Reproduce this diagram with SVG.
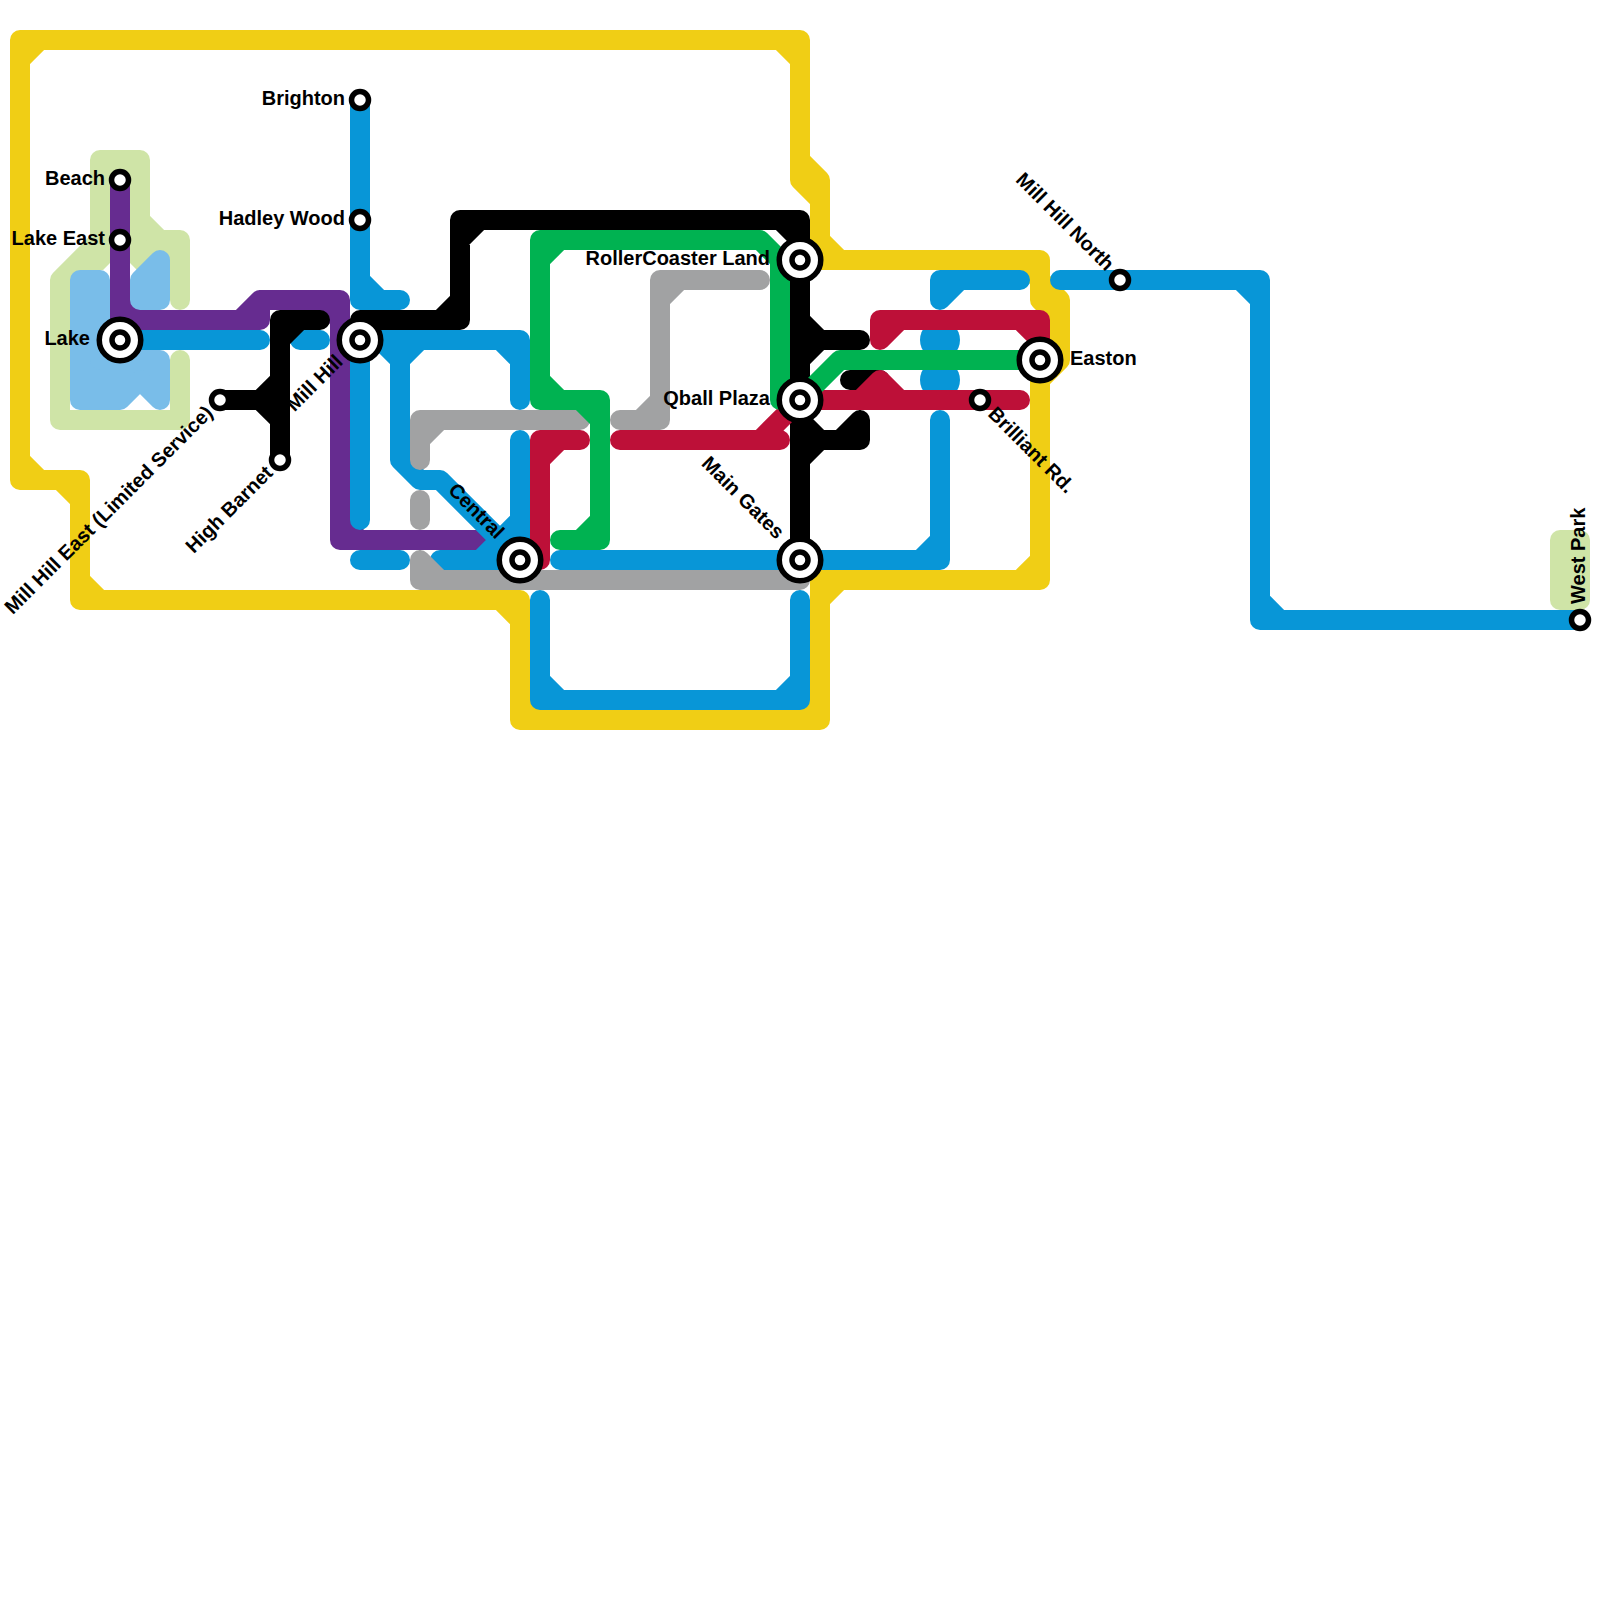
<svg xmlns="http://www.w3.org/2000/svg" width="1600" height="1600" viewBox="0 0 1600 1600">
<style>
.l{fill:none;stroke-width:20;stroke-linecap:round;stroke-linejoin:round}
.y{stroke:#f0ce15}.p{stroke:#662c90}.b{stroke:#0896d7}.a{stroke:#a1a2a3}.k{stroke:#000}.r{stroke:#bd1038}.g{stroke:#00b251}
.lg{fill:#cfe4a7}.lb{fill:#79bde9}
.s{stroke-width:20;stroke-linejoin:round;stroke-linecap:round}
.o{fill:#fff;stroke:#000;stroke-width:5.5}
.t{font-family:"Liberation Sans",Arial,sans-serif;font-weight:bold;font-size:20px;fill:#000}
.e{text-anchor:end}
</style>
<g id="areas">
<path class="lg" d="M100 160L140 160L140 220L160 240L170 240L170 260L160 260L137 270L130 263L110 263L103 270L70 275L60 280L100 240Z"/>
<path class="l" stroke="#cfe4a7" d="M180 300L180 240L160 240L140 220L140 160L100 160L100 240L60 280L60 420L180 420L180 360"/>
<rect class="lg" x="1550" y="530" width="40" height="80" rx="10"/>
</g>
<g id="connectors">
<path class="l y" d="M820 260L1040 260L1040 300L1060 300L1060 360L1040 380L1040 580L820 580L820 720L520 720L520 600L80 600L80 480L20 480L20 40L800 40L800 180L820 180L820 260M20 60L40 40M780 40L800 60M800 160L820 180M800 180L820 200M820 240L840 260M1020 260L1040 280M1040 280L1060 300M1040 300L1060 320M1040 560L1020 580M840 580L820 600M820 700L800 720M520 700L540 720M500 600L520 620M80 580L100 600M60 480L80 500M20 460L40 480"/>
<path class="l p" d="M120 180L120 320L260 320L260 300L340 300L340 540L480 540M120 300L140 320M240 320L260 300M320 300L340 320M340 520L360 540"/>
<g class="s">
<path class="lb" stroke="#79bde9" d="M80 280L100 280L100 360L160 360L160 400L140 380L120 400L80 400Z"/>
<path class="lb" stroke="#79bde9" d="M160 260L160 300L140 300L140 280Z"/>
</g>
<circle cx="940" cy="340" r="20" fill="#0896d7"/>
<circle cx="940" cy="380" r="20" fill="#0896d7"/>
<path class="l b" d="M360 100L360 300L400 300M360 280L380 300M360 340L360 520M360 340L520 340L520 400M500 340L520 360M400 340L400 460L420 480L440 480L520 560M380 340L400 360L420 340M520 440L520 560L440 560M520 520L480 560M360 560L400 560M560 560L940 560L940 420M920 560L940 540M940 300L940 280L1020 280M940 300L960 280M1060 280L1260 280L1260 620L1580 620M1240 280L1260 300M1260 600L1280 620M120 340L260 340M300 340L320 340M540 600L540 700L800 700L800 600M540 680L560 700M780 700L800 680"/>
<path class="l a" d="M420 460L420 420L580 420M420 440L440 420M420 500L420 520M420 560L420 580L800 580M420 560L440 580M620 420L660 420L660 280L760 280M640 420L660 400M660 300L680 280"/>
<path class="l k" d="M360 320L460 320L460 220L800 220L800 560M440 320L460 300M460 240L480 220M780 220L800 240M800 320L820 340L860 340M800 360L820 340M800 420L820 440L860 440L860 420M800 460L820 440M840 440L860 420M850 380L880 380M320 320L280 320L280 460M280 340L300 320M220 400L280 400M260 400L280 380M260 400L280 420"/>
<path class="l r" d="M540 560L540 440L580 440M540 460L560 440M620 440L780 440M760 440L800 400M880 340L880 320L1040 320L1040 360M880 340L900 320M1020 320L1040 340M800 400L1020 400M860 400L880 380L900 400"/>
<path class="l g" d="M780 400L780 260L760 240L540 240L540 400L600 400L600 540L560 540M540 260L560 240M540 380L560 400M580 400L600 420M600 520L580 540M800 400L840 360L1040 360"/>
</g>
<defs>
<g id="big"><circle r="20.75" class="o"/><circle r="8" class="o"/></g>
<circle id="small" r="8.5" class="o"/>
</defs>
<g id="beach"><use href="#small" x="120" y="180"/><text class="t e" x="105" y="185">Beach</text></g>
<g id="lake-east"><use href="#small" x="120" y="240"/><text class="t e" x="105" y="245">Lake East</text></g>
<g id="lake"><use href="#big" x="120" y="340"/><text class="t e" x="90" y="345">Lake</text></g>
<g id="brighton"><use href="#small" x="360" y="100"/><text class="t e" x="345" y="105">Brighton</text></g>
<g id="hadley-wood"><use href="#small" x="360" y="220"/><text class="t e" x="345" y="225">Hadley Wood</text></g>
<g id="mill-hill"><use href="#big" x="360" y="340"/><text class="t e" transform="translate(344 363) rotate(-45)">Mill Hill</text></g>
<g id="high-barnet"><use href="#small" x="280" y="460"/><text class="t e" transform="translate(274 474) rotate(-45)">High Barnet</text></g>
<g id="mill-hill-east"><use href="#small" x="220" y="400"/><text class="t e" transform="translate(214 414) rotate(-45)">Mill Hill East (Limited Service)</text></g>
<g id="central"><use href="#big" x="520" y="560"/><text class="t e" transform="translate(496 540) rotate(45)">Central</text></g>
<g id="rollercoaster-land"><use href="#big" x="800" y="260"/><text class="t e" x="770" y="265">RollerCoaster Land</text></g>
<g id="qball-plaza"><use href="#big" x="800" y="400"/><text class="t e" x="770" y="405">Qball Plaza</text></g>
<g id="main-gates"><use href="#big" x="800" y="560"/><text class="t e" transform="translate(776 540) rotate(45)">Main Gates</text></g>
<g id="easton"><use href="#big" x="1040" y="360"/><text class="t" x="1070" y="365">Easton</text></g>
<g id="brilliant-rd"><use href="#small" x="980" y="400"/><text class="t" transform="translate(987 415) rotate(45)">Brilliant Rd.</text></g>
<g id="mill-hill-north"><use href="#small" x="1120" y="280"/><text class="t e" transform="translate(1106 272) rotate(45)">Mill Hill North</text></g>
<g id="west-park"><use href="#small" x="1580" y="620"/><text class="t" transform="translate(1585 604) rotate(-90)">West Park</text></g>
</svg>
